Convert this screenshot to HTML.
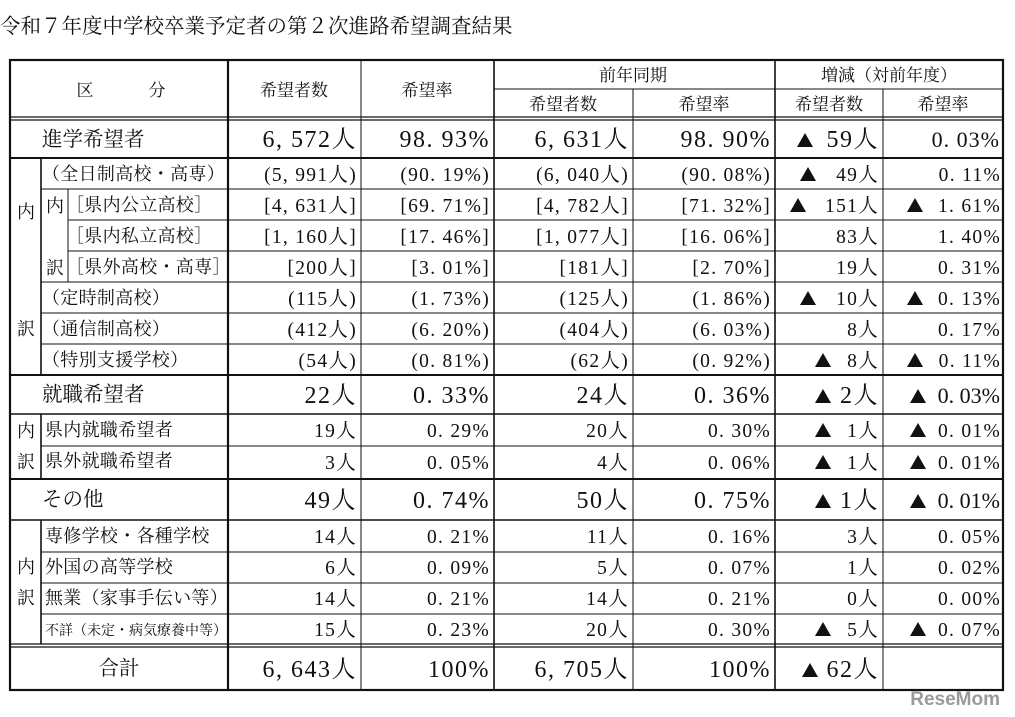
<!DOCTYPE html>
<html><head><meta charset="utf-8"><style>
html,body{margin:0;padding:0;background:#fff;width:1015px;height:717px;overflow:hidden}
svg text{font-family:"Liberation Serif","Noto Serif CJK SC",serif;fill:#111}
</style></head><body>
<svg width="1015" height="717" viewBox="0 0 1015 717" xmlns="http://www.w3.org/2000/svg">
<text x="0" y="33" font-size="20.5">令和７年度中学校卒業予定者の第２次進路希望調査結果</text>
<g stroke="#111" fill="none">
<rect x="10" y="60" width="993" height="630" stroke-width="2.2"/>
<line x1="494" y1="89" x2="1003" y2="89" stroke-width="1"/>
<line x1="10" y1="117" x2="1003" y2="117" stroke-width="1.2"/>
<line x1="10" y1="120" x2="1003" y2="120" stroke-width="1.2"/>
<line x1="228" y1="60" x2="228" y2="690" stroke-width="2.2"/>
<line x1="361" y1="60" x2="361" y2="690" stroke-width="1"/>
<line x1="494" y1="60" x2="494" y2="690" stroke-width="1.6"/>
<line x1="633" y1="89" x2="633" y2="690" stroke-width="1"/>
<line x1="775" y1="60" x2="775" y2="690" stroke-width="1.6"/>
<line x1="883" y1="89" x2="883" y2="690" stroke-width="1"/>
<line x1="10" y1="158" x2="1003" y2="158" stroke-width="2"/>
<line x1="10" y1="375" x2="1003" y2="375" stroke-width="2"/>
<line x1="10" y1="414" x2="1003" y2="414" stroke-width="1.6"/>
<line x1="10" y1="479" x2="1003" y2="479" stroke-width="2"/>
<line x1="10" y1="520" x2="1003" y2="520" stroke-width="1.6"/>
<line x1="10" y1="644" x2="1003" y2="644" stroke-width="1.2"/>
<line x1="10" y1="647" x2="1003" y2="647" stroke-width="1.2"/>
<line x1="41" y1="189" x2="1003" y2="189"/>
<line x1="68" y1="220" x2="1003" y2="220"/>
<line x1="68" y1="251" x2="1003" y2="251"/>
<line x1="41" y1="282" x2="1003" y2="282"/>
<line x1="41" y1="313" x2="1003" y2="313"/>
<line x1="41" y1="344" x2="1003" y2="344"/>
<line x1="41" y1="446" x2="1003" y2="446"/>
<line x1="41" y1="552" x2="1003" y2="552"/>
<line x1="41" y1="583" x2="1003" y2="583"/>
<line x1="41" y1="614" x2="1003" y2="614"/>
<line x1="41" y1="158" x2="41" y2="375" stroke-width="1.6"/>
<line x1="68" y1="189" x2="68" y2="282"/>
<line x1="41" y1="414" x2="41" y2="479" stroke-width="1.6"/>
<line x1="41" y1="520" x2="41" y2="644" stroke-width="1.6"/>
</g>
<g font-size="17" text-anchor="middle">
<text x="85" y="96">区</text><text x="157" y="96">分</text>
<text x="294" y="96">希望者数</text>
<text x="427" y="96">希望率</text>
<text x="633" y="81">前年同期</text>
<text x="563" y="110">希望者数</text>
<text x="704" y="110">希望率</text>
<text x="889" y="81">増減（対前年度）</text>
<text x="829" y="110">希望者数</text>
<text x="943" y="110">希望率</text>
</g>
<g font-size="18" text-anchor="middle">
<text x="26" y="218">内</text><text x="26" y="335">訳</text>
<text x="55" y="212">内</text><text x="55" y="274">訳</text>
<text x="26" y="437">内</text><text x="26" y="468">訳</text>
<text x="26" y="573">内</text><text x="26" y="604">訳</text>
</g>
<g font-size="20.5">
<text x="42" y="146">進学希望者</text>
<text x="42" y="401">就職希望者</text>
<text x="42" y="506">その他</text>
<text x="119" y="675" text-anchor="middle">合計</text>
</g>
<g font-size="18" letter-spacing="0.3">
<text x="42" y="180">（全日制高校・高専）</text>
<text x="66" y="211">［県内公立高校］</text>
<text x="66" y="242">［県内私立高校］</text>
<text x="66" y="273">［県外高校・高専］</text>
<text x="42" y="304">（定時制高校）</text>
<text x="42" y="335">（通信制高校）</text>
<text x="42" y="366">（特別支援学校）</text>
<text x="45" y="436">県内就職希望者</text>
<text x="45" y="467">県外就職希望者</text>
<text x="45" y="542">専修学校・各種学校</text>
<text x="45" y="573">外国の高等学校</text>
<text x="45" y="604">無業（家事手伝い等）</text>
<text x="45" y="635" font-size="14" letter-spacing="0">不詳（未定・病気療養中等）</text>
</g>
<g font-size="24" text-anchor="end" letter-spacing="1.5">
<text x="357" y="147">6, 572人</text><text x="490" y="147">98. 93%</text><text x="629" y="147">6, 631人</text><text x="771" y="147">98. 90%</text><text x="879" y="147">59人</text>
<text x="357" y="403">22人</text><text x="490" y="403">0. 33%</text><text x="629" y="403">24人</text><text x="771" y="403">0. 36%</text><text x="879" y="403">2人</text>
<text x="357" y="508">49人</text><text x="490" y="508">0. 74%</text><text x="629" y="508">50人</text><text x="771" y="508">0. 75%</text><text x="879" y="508">1人</text>
<text x="357" y="677">6, 643人</text><text x="490" y="677">100%</text><text x="629" y="677">6, 705人</text><text x="771" y="677">100%</text><text x="879" y="677">62人</text>
</g>
<g font-size="22" text-anchor="end">
<text x="1000" y="147" letter-spacing="1">0. 03%</text>
<text x="1000" y="403">0. 03%</text>
<text x="1000" y="508">0. 01%</text>
</g>
<g font-size="19.5" text-anchor="end" letter-spacing="1.3">
<text x="357" y="181">(5, 991人)</text><text x="490" y="181">(90. 19%)</text><text x="629" y="181">(6, 040人)</text><text x="771" y="181">(90. 08%)</text><text x="879" y="181">49人</text><text x="1001" y="181">0. 11%</text>
<text x="357" y="212">[4, 631人]</text><text x="490" y="212">[69. 71%]</text><text x="629" y="212">[4, 782人]</text><text x="771" y="212">[71. 32%]</text><text x="879" y="212">151人</text><text x="1001" y="212">1. 61%</text>
<text x="357" y="243">[1, 160人]</text><text x="490" y="243">[17. 46%]</text><text x="629" y="243">[1, 077人]</text><text x="771" y="243">[16. 06%]</text><text x="879" y="243">83人</text><text x="1001" y="243">1. 40%</text>
<text x="357" y="274">[200人]</text><text x="490" y="274">[3. 01%]</text><text x="629" y="274">[181人]</text><text x="771" y="274">[2. 70%]</text><text x="879" y="274">19人</text><text x="1001" y="274">0. 31%</text>
<text x="357" y="305">(115人)</text><text x="490" y="305">(1. 73%)</text><text x="629" y="305">(125人)</text><text x="771" y="305">(1. 86%)</text><text x="879" y="305">10人</text><text x="1001" y="305">0. 13%</text>
<text x="357" y="336">(412人)</text><text x="490" y="336">(6. 20%)</text><text x="629" y="336">(404人)</text><text x="771" y="336">(6. 03%)</text><text x="879" y="336">8人</text><text x="1001" y="336">0. 17%</text>
<text x="357" y="367">(54人)</text><text x="490" y="367">(0. 81%)</text><text x="629" y="367">(62人)</text><text x="771" y="367">(0. 92%)</text><text x="879" y="367">8人</text><text x="1001" y="367">0. 11%</text>
<text x="357" y="437">19人</text><text x="490" y="437">0. 29%</text><text x="629" y="437">20人</text><text x="771" y="437">0. 30%</text><text x="879" y="437">1人</text><text x="1001" y="437">0. 01%</text>
<text x="357" y="469">3人</text><text x="490" y="469">0. 05%</text><text x="629" y="469">4人</text><text x="771" y="469">0. 06%</text><text x="879" y="469">1人</text><text x="1001" y="469">0. 01%</text>
<text x="357" y="543">14人</text><text x="490" y="543">0. 21%</text><text x="629" y="543">11人</text><text x="771" y="543">0. 16%</text><text x="879" y="543">3人</text><text x="1001" y="543">0. 05%</text>
<text x="357" y="574">6人</text><text x="490" y="574">0. 09%</text><text x="629" y="574">5人</text><text x="771" y="574">0. 07%</text><text x="879" y="574">1人</text><text x="1001" y="574">0. 02%</text>
<text x="357" y="605">14人</text><text x="490" y="605">0. 21%</text><text x="629" y="605">14人</text><text x="771" y="605">0. 21%</text><text x="879" y="605">0人</text><text x="1001" y="605">0. 00%</text>
<text x="357" y="636">15人</text><text x="490" y="636">0. 23%</text><text x="629" y="636">20人</text><text x="771" y="636">0. 30%</text><text x="879" y="636">5人</text><text x="1001" y="636">0. 07%</text>
</g>
<g fill="#111">
<polygon points="797,147 805,133 813,147"/>
<polygon points="800,181 808,167 816,181"/>
<polygon points="790,212 798,198 806,212"/><polygon points="907,212 915,198 923,212"/>
<polygon points="800,305 808,291 816,305"/><polygon points="907,305 915,291 923,305"/>
<polygon points="815,367 823,353 831,367"/><polygon points="907,367 915,353 923,367"/>
<polygon points="815,403 823,389 831,403"/><polygon points="910,403 918,389 926,403"/>
<polygon points="815,437 823,423 831,437"/><polygon points="910,437 918,423 926,437"/>
<polygon points="815,469 823,455 831,469"/><polygon points="910,469 918,455 926,469"/>
<polygon points="815,508 823,494 831,508"/><polygon points="910,508 918,494 926,508"/>
<polygon points="815,636 823,622 831,636"/><polygon points="910,636 918,622 926,636"/>
<polygon points="802,677 810,663 818,677"/>
</g>
<text x="1000" y="705" font-size="19" font-weight="bold" text-anchor="end" style="fill:#9a9a9a;font-family:'Liberation Sans',sans-serif">ReseMom</text>
</svg>
</body></html>
